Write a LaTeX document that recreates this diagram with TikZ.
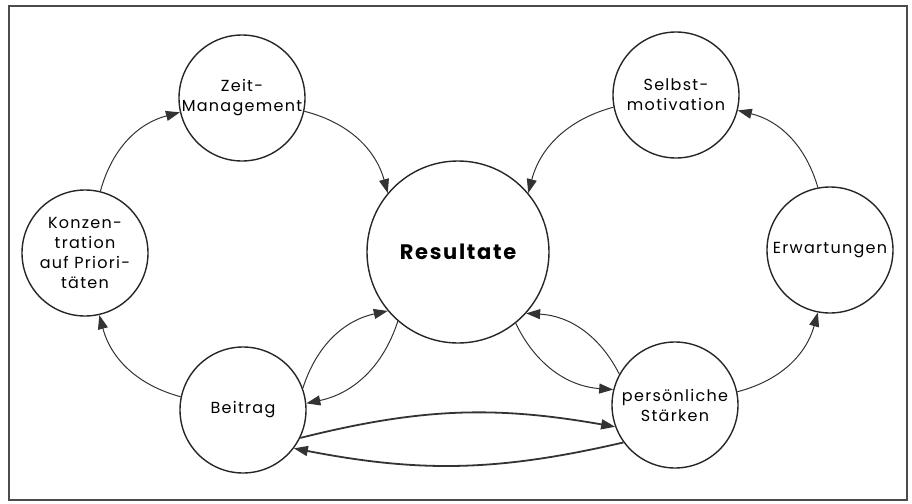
\documentclass[tikz,border=0pt]{standalone}
\usepackage{fontspec}
\setmainfont[LetterSpace=8]{Poppins}
\usetikzlibrary{arrows.meta}

\begin{document}
\begin{tikzpicture}[x=0.5pt,y=-0.5pt,
  bubble/.style={circle,draw=black!85,line width=0.7pt,minimum size=63pt,inner sep=0pt,align=center,font=\fontsize{8}{10}\selectfont},
  big/.style={bubble,minimum size=91pt,font=\fontsize{10.5}{12}\selectfont\bfseries},
  flow/.style={-{Triangle[length=7pt,width=5pt]},line width=0.5pt,draw=black!80}]
  \useasboundingbox (0,0) rectangle (912,504);
  \draw[line width=1pt,black!70] (9,6) rectangle (907,500);
  \node[bubble] (zeit) at (242,98) {Zeit-\\Management};
  \node[bubble,inner sep=-3pt] (konz) at (85,253) {Konzen-\\tration\\auf Priori-\\täten};
  \node[bubble] (beitrag) at (243,410) {Beitrag};
  \node[big] (res) at (458,252) {Resultate};
  \node[bubble] (selbst) at (676,95) {Selbst-\\motivation};
  \node[bubble,inner sep=-2pt] (erw) at (830,250) {Erwartungen};
  \node[bubble] (staerken) at (675,405) {persönliche\\Stärken};
  \draw[flow] (konz.76) to[bend left=30] (zeit.193);
  \draw[flow] (zeit.348) to[bend left=30] (res.140);
  \draw[flow] (selbst.191) to[bend right=30] (res.40);
  \draw[flow] (erw.101) to[bend right=30] (selbst.346);
  \draw[flow] (staerken.12) to[bend right=30] (erw.259);
  \draw[flow] (beitrag.168) to[bend left=30] (konz.283);
  \draw[flow] (beitrag.20) to[bend left=30] (res.220);
  \draw[flow] (res.229) to[bend left=30] (beitrag.6);
  \draw[flow] (res.309) to[bend right=30] (staerken.166);
  \draw[flow] (staerken.151) to[bend right=30] (res.318);
  \draw[flow,line width=0.9pt] (beitrag.334) to[bend left=12] (staerken.200);
  \draw[flow,line width=0.9pt] (staerken.216) to[bend left=12] (beitrag.323);
\end{tikzpicture}
\end{document}
